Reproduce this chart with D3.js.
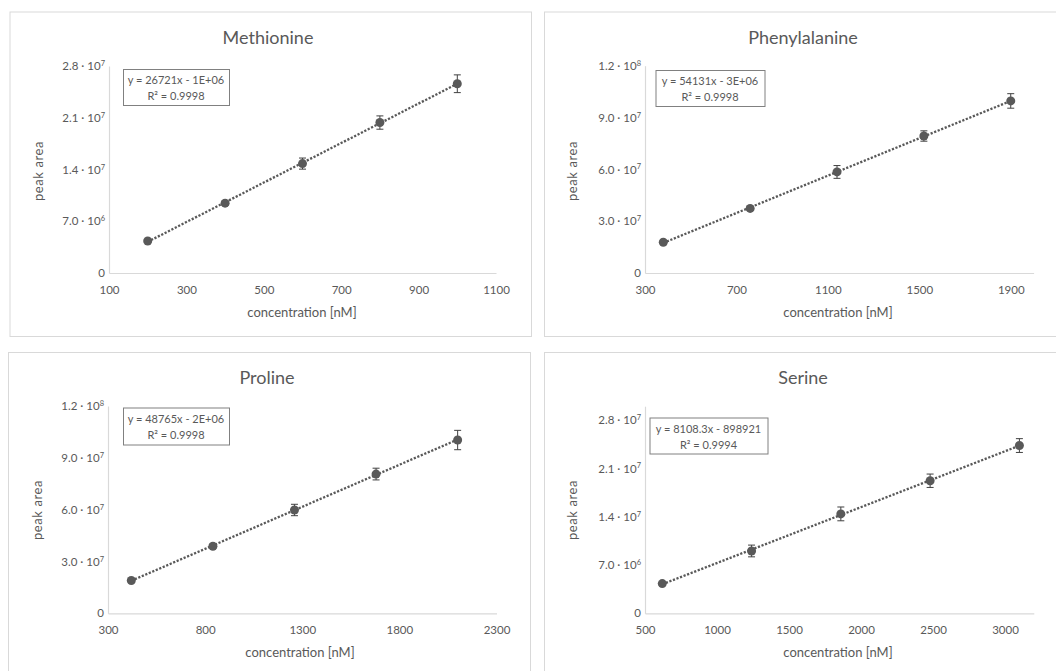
<!DOCTYPE html>
<html>
<head>
<meta charset="utf-8">
<script src="https://cdn.jsdelivr.net/npm/d3@7"></script>
<style>
  html, body { margin: 0; padding: 0; background: #fff; }
  svg { display: block; font-family: Lato, "Open Sans", sans-serif; }
</style>
</head>
<body>
<svg id="chart" width="1056" height="671"></svg>
<script>
// ---------- data ----------
const chartTitles = ["Methionine", "Phenylalanine", "Proline", "Serine"];

const metConc = [200, 400, 600, 800, 1000];
const metArea = [4.33e6, 9.45e6, 14.8e6, 20.35e6, 25.6e6];
const metErr  = [0.12e6, 0.3e6, 0.75e6, 0.9e6, 1.2e6];

const pheConc = [380, 760, 1140, 1520, 1900];
const pheArea = [17.8e6, 37.4e6, 58.5e6, 79.3e6, 99.6e6];
const pheErr  = [0.6e6, 0.9e6, 3.7e6, 3.0e6, 4.2e6];

const proConc = [420, 840, 1260, 1680, 2100];
const proArea = [19.0e6, 38.8e6, 59.8e6, 80.6e6, 100.3e6];
const proErr  = [0.6e6, 1.2e6, 3.3e6, 3.4e6, 5.6e6];

const serConc = [620, 1240, 1860, 2480, 3100];
const serArea = [4.3e6, 9.03e6, 14.4e6, 19.2e6, 24.3e6];
const serErr  = [0.2e6, 0.85e6, 1.0e6, 0.97e6, 1.0e6];

const eqLabels = ["y = 26721x - 1E+06", "y = 54131x - 3E+06", "y = 48765x - 2E+06", "y = 8108.3x - 898921"];
const r2Labels = ["R\u00B2 = 0.9998", "R\u00B2 = 0.9998", "R\u00B2 = 0.9998", "R\u00B2 = 0.9994"];

const metXTicks = [100, 300, 500, 700, 900, 1100];
const pheXTicks = [300, 700, 1100, 1500, 1900];
const proXTicks = [300, 800, 1300, 1800, 2300];
const serXTicks = [500, 1000, 1500, 2000, 2500, 3000];

const metYTicks = [0, 7e6, 1.4e7, 2.1e7, 2.8e7];
const pheYTicks = [0, 3e7, 6e7, 9e7, 1.2e8];
const proYTicks = [0, 3e7, 6e7, 9e7, 1.2e8];
const serYTicks = [0, 7e6, 1.4e7, 2.1e7, 2.8e7];

const xDomains = [[100, 1100], [300, 2000], [300, 2300], [500, 3200]];
const yDomains = [[0, 2.8e7], [0, 1.2e8], [0, 1.2e8], [0, 3.0e7]];

const xAxisTitle = "concentration [nM]";
const yAxisTitle = "peak area";

// ---------- layout ----------
const panels = [
  { conc: metConc, area: metArea, err: metErr, xt: metXTicks, yt: metYTicks,
    border: [10, 12, 531.5, 336.5], x0: 109, x1: 496, y0: 273, y1: 66,
    titleX: 268, titleY: 44, box: [123, 69, 106, 36], xTitleX: 302, yTitleY: 171, yTitleX: 43 },
  { conc: pheConc, area: pheArea, err: pheErr, xt: pheXTicks, yt: pheYTicks,
    border: [544.5, 12, 1066, 336.5], x0: 645, x1: 1033.6, y0: 273, y1: 65.7,
    titleX: 803, titleY: 44, box: [655.5, 70, 109, 36], xTitleX: 838, yTitleY: 171, yTitleX: 577 },
  { conc: proConc, area: proArea, err: proErr, xt: proXTicks, yt: proYTicks,
    border: [8.5, 352.5, 530.5, 700], x0: 108, x1: 496.5, y0: 613.3, y1: 406,
    titleX: 267, titleY: 383.5, box: [123, 407.5, 106, 37], xTitleX: 300, yTitleY: 510, yTitleX: 42 },
  { conc: serConc, area: serArea, err: serErr, xt: serXTicks, yt: serYTicks,
    border: [544.5, 352.5, 1066, 700], x0: 645, x1: 1033.8, y0: 613.3, y1: 406.2,
    titleX: 803, titleY: 383.5, box: [649.5, 417.5, 118, 36], xTitleX: 838, yTitleY: 510, yTitleX: 577 }
];

const textColor = "#595959";
const axisColor = "#d9d9d9";
const markColor = "#595959";

const svg = d3.select("#chart");

function sciParts(v) {
  if (v === 0) return null;
  const e = Math.floor(Math.log10(v) + 1e-9);
  const m = v / Math.pow(10, e);
  return { m: m.toFixed(1), e: String(e) };
}

function linReg(xs, ys) {
  const mx = d3.mean(xs), my = d3.mean(ys);
  let sxy = 0, sxx = 0;
  xs.forEach((x, i) => { sxy += (x - mx) * (ys[i] - my); sxx += (x - mx) * (x - mx); });
  const b = sxy / sxx;
  return { b, a: my - b * mx };
}

panels.forEach((p, i) => {
  const g = svg.append("g");

  // border
  g.append("rect")
    .attr("x", p.border[0]).attr("y", p.border[1])
    .attr("width", p.border[2] - p.border[0]).attr("height", p.border[3] - p.border[1])
    .attr("fill", "#fff").attr("stroke", axisColor).attr("stroke-width", 1);

  const x = d3.scaleLinear().domain(xDomains[i]).range([p.x0, p.x1]);
  const y = d3.scaleLinear().domain(yDomains[i]).range([p.y0, p.y1]);

  // title
  g.append("text").attr("x", p.titleX).attr("y", p.titleY)
    .attr("text-anchor", "middle").attr("fill", "#595959")
    .attr("font-size", 18).attr("font-weight", 400).text(chartTitles[i]);

  // x axis
  const xAxis = g.append("g").attr("transform", `translate(0,${p.y0})`)
    .call(d3.axisBottom(x).tickValues(p.xt).tickSize(0).tickPadding(13).tickFormat(d3.format("d")));
  xAxis.select(".domain").attr("stroke", axisColor).attr("stroke-width", 1.2);
  xAxis.selectAll("text").attr("fill", textColor).attr("font-size", 11.5)
    .attr("font-family", "Lato, 'Open Sans', sans-serif");

  // y axis
  const yAxis = g.append("g").attr("transform", `translate(${p.x0},0)`)
    .call(d3.axisLeft(y).tickValues(p.yt).tickSize(0).tickPadding(4).tickFormat(d => d === 0 ? "0" : ""));
  yAxis.select(".domain").attr("stroke", axisColor).attr("stroke-width", 1.2);
  yAxis.selectAll("text").attr("fill", textColor).attr("font-size", 11.5)
    .attr("font-family", "Lato, 'Open Sans', sans-serif")
    .each(function(d) {
      const s = sciParts(d);
      if (!s) return;
      const t = d3.select(this);
      t.append("tspan").text(s.m + " \u00B7 10");
      t.append("tspan").attr("font-size", 7.5).attr("dy", "-0.55em").text(s.e);
    });

  // axis titles
  g.append("text").attr("x", p.xTitleX).attr("y", p.y0 + 44)
    .attr("text-anchor", "middle").attr("fill", textColor).attr("font-size", 13)
    .text(xAxisTitle);
  g.append("text")
    .attr("transform", `translate(${p.yTitleX},${p.yTitleY}) rotate(-90)`)
    .attr("text-anchor", "middle").attr("fill", textColor).attr("font-size", 13)
    .attr("letter-spacing", 0.6)
    .text(yAxisTitle);

  // trendline
  const reg = linReg(p.conc, p.area);
  const xMin = d3.min(p.conc), xMax = d3.max(p.conc);
  g.append("line")
    .attr("x1", x(xMin)).attr("y1", y(reg.a + reg.b * xMin))
    .attr("x2", x(xMax)).attr("y2", y(reg.a + reg.b * xMax))
    .attr("stroke", markColor).attr("stroke-width", 2.3)
    .attr("stroke-dasharray", "2.2 1.6");

  // error bars
  const pts = p.conc.map((c, k) => ({ c, a: p.area[k], e: p.err[k] }));
  const eb = g.append("g").attr("stroke", "#404040").attr("stroke-width", 1);
  pts.forEach(d => {
    eb.append("line").attr("x1", x(d.c)).attr("x2", x(d.c))
      .attr("y1", y(d.a - d.e)).attr("y2", y(d.a + d.e));
    [d.a - d.e, d.a + d.e].forEach(v => {
      eb.append("line").attr("x1", x(d.c) - 3.5).attr("x2", x(d.c) + 3.5)
        .attr("y1", y(v)).attr("y2", y(v));
    });
  });

  // markers
  g.append("g").selectAll("circle").data(pts).join("circle")
    .attr("cx", d => x(d.c)).attr("cy", d => y(d.a)).attr("r", 4.5)
    .attr("fill", markColor);

  // equation box
  const bx = p.box;
  g.append("rect").attr("x", bx[0] + 0.5).attr("y", bx[1] + 0.5)
    .attr("width", bx[2]).attr("height", bx[3])
    .attr("fill", "#fff").attr("stroke", "#808080").attr("stroke-width", 1);
  g.append("text").attr("x", bx[0] + bx[2] / 2).attr("y", bx[1] + 15)
    .attr("text-anchor", "middle").attr("fill", textColor).attr("font-size", 11)
    .text(eqLabels[i]);
  g.append("text").attr("x", bx[0] + bx[2] / 2).attr("y", bx[1] + 31)
    .attr("text-anchor", "middle").attr("fill", textColor).attr("font-size", 11)
    .text(r2Labels[i]);
});
</script>
</body>
</html>
